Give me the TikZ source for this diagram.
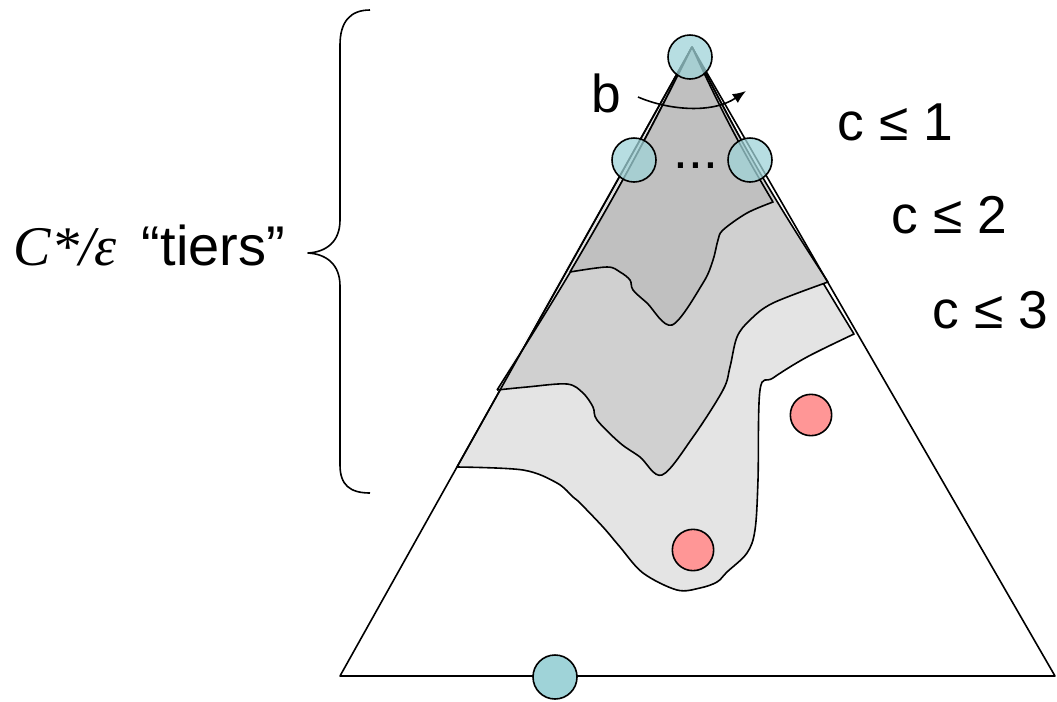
\documentclass[tikz,border=0pt]{standalone}
\usepackage{fontspec}
\setmainfont{Liberation Sans}
\newfontfamily\serifit{Liberation Serif}
\usetikzlibrary{arrows.meta}
\definecolor{tierA}{RGB}{192,192,192}
\definecolor{tierB}{RGB}{208,208,208}
\definecolor{tierC}{RGB}{228,228,228}
\definecolor{bluept}{RGB}{159,211,216}
\definecolor{redpt}{RGB}{255,150,150}
\begin{document}
\begin{tikzpicture}[x=0.75pt,y=-0.75pt,line width=1.2pt,line join=round,
  region/.style={draw=black,line width=1.2pt},
  bluedot/.style={circle,draw=black,line width=1.2pt,fill=bluept,fill opacity=0.75,minimum size=33pt,inner sep=0},
  reddot/.style={circle,draw=black,line width=1.2pt,fill=redpt,minimum size=31pt,inner sep=0},
  bigtxt/.style={anchor=base west,inner sep=0,font=\fontsize{40}{48}\selectfont}]
\useasboundingbox (0,0) rectangle (1057,701);
\coordinate (A) at (692,47);
\coordinate (BL) at (340,676);
\coordinate (BR) at (1055,676);
% tier 3 (c <= 3)
\filldraw[region,fill=tierC] (A) -- (457,467)
  plot[smooth,tension=0.55] coordinates {(457,467) (523,470) (557,483) (573,497) (580,503) (603,527) (620,547) (643,573) (677,590) (700,588) (717,582) (727,572) (747,553) (755,530) (758,480) (760,390) (773,378) (807,357) (854,334)}
  to[bend left=2] (A);
% tier 2 (c <= 2)
\filldraw[region,fill=tierB] (A) to[bend left=3] (497,390)
  plot[smooth,tension=0.55] coordinates {(497,390) (527,387) (567,384) (583,393) (593,407) (597,420) (620,443) (640,457) (662,475) (693,437) (723,390) (730,367) (737,337) (750,320) (773,303) (828,282)}
  to[bend left=3] (A);
% tier 1 (c <= 1)
\filldraw[region,fill=tierA] (A) to[bend left=2] (570,272)
  plot[smooth,tension=0.55] coordinates {(570,272) (607,267) (620,272) (630,280) (633,290) (647,303) (672,325) (703,283) (713,260) (718,240) (723,230) (747,213) (773,202)}
  to[bend left=3] (A);
% triangle
\draw (BL) -- (A) -- (BR) -- cycle;
% brace
\draw (370,10) .. controls (350,10) and (340,22) .. (340,45) -- (340,220)
  .. controls (340,242) and (326,252) .. (308,253)
  .. controls (326,254) and (340,264) .. (340,286) -- (340,465)
  .. controls (340,485) and (350,493) .. (370,493);
% points
\node[bluedot] (p0) at (690,57) {};
\node[bluedot] (p1) at (634,160) {};
\node[bluedot] (p2) at (750,160) {};
\node[bluedot,fill opacity=1] (p3) at (555,677) {};
\node[reddot] (q1) at (811,415) {};
\node[reddot] (q2) at (693,550) {};
\node[bigtxt] (dots) at (673,168) {...};
% labels
\node[bigtxt] (b) at (591,112) {b};
\coordinate (bs) at (638,97);
\coordinate (be) at (746,91);
\draw[-{Latex[length=10pt,width=8pt]}] (bs) .. controls (668,110) and (712,114) .. (be);
\node[bigtxt] (c1) at (837,140) {c ≤ 1};
\node[bigtxt] (c2) at (891,233) {c ≤ 2};
\node[bigtxt] (c3) at (932,328) {c ≤ 3};
\node[bigtxt,font=\fontsize{42}{50}\selectfont] (tiers) at (13,265) {{\serifit\itshape C*/ε}\hspace{0.45em}“tiers”};
\end{tikzpicture}
\end{document}
